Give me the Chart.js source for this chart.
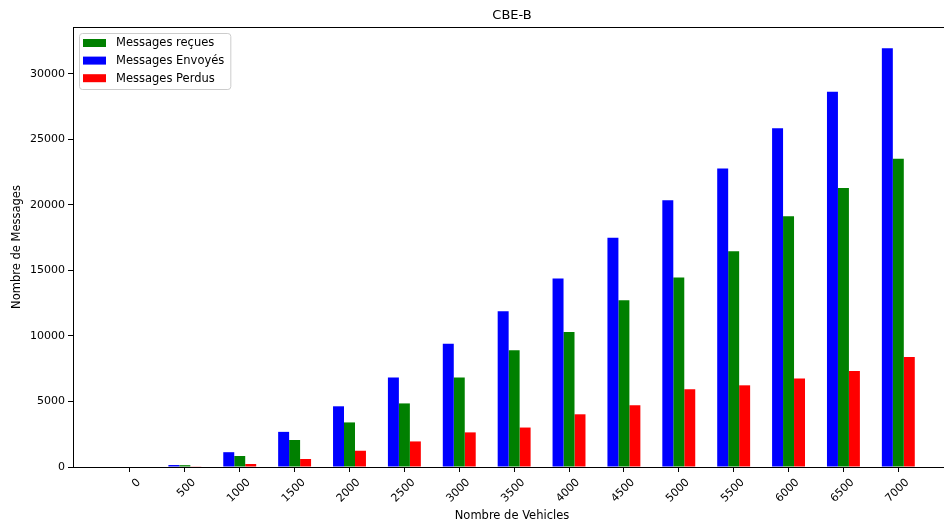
<!DOCTYPE html>
<html>
<head>
<meta charset="utf-8">
<script src="https://cdn.jsdelivr.net/npm/chart.js@4"></script>
<style>
  html, body { margin: 0; padding: 0; background: #fff; overflow: hidden; }
  canvas { display: block; }
</style>
</head>
<body>
<!-- canvas is a bit wider than the window: the right spine falls outside, as in the cropped original -->
<canvas id="cbeChart" width="952" height="523"></canvas>
<script>
const vehicleCounts = [0, 500, 1000, 1500, 2000, 2500, 3000, 3500, 4000, 4500, 5000, 5500, 6000, 6500, 7000];
const messagesEnvoyes = [0, 150, 1130, 2680, 4630, 6820, 9410, 11880, 14370, 17490, 20340, 22760, 25830, 28630, 31930];
const messagesRecues = [0, 140, 840, 2060, 3400, 4850, 6820, 8900, 10300, 12716, 14450, 16450, 19120, 21280, 23520];
const messagesPerdus = [0, 50, 230, 610, 1240, 1950, 2640, 3010, 4020, 4710, 5930, 6230, 6750, 7320, 8390];
const yTicks = [0, 5000, 10000, 15000, 20000, 25000, 30000];

// legend shows reçues first, then Envoyés, then Perdus
const legendOrder = [1, 0, 2];

Chart.defaults.font.family = "'DejaVu Sans', sans-serif";
Chart.defaults.color = '#000';

const toPoints = (values) => vehicleCounts.map((x, i) => ({ x: x, y: values[i] }));

const framePlugin = {
  id: 'frame',
  afterDraw(chart) {
    const { ctx, chartArea: a } = chart;
    ctx.save();
    ctx.strokeStyle = '#000';
    ctx.lineWidth = 1;
    ctx.strokeRect(Math.round(a.left) + 0.5, Math.round(a.top) + 0.5,
      Math.round(a.right - a.left), Math.round(a.bottom - a.top));
    ctx.restore();
  }
};

const boxLegend = {
  id: 'boxLegend',
  afterDraw(chart) {
    const { ctx, chartArea: a } = chart;
    const datasets = chart.data.datasets;
    ctx.save();
    ctx.font = '11.5px "DejaVu Sans"';
    let textW = 0;
    legendOrder.forEach(i => { textW = Math.max(textW, ctx.measureText(datasets[i].label).width); });

    const x = Math.round(a.left) + 6.5;
    const y = Math.round(a.top) + 6.5;
    const w = 37 + textW + 6;
    const h = 56;

    ctx.beginPath();
    ctx.roundRect(x, y, w, h, 3);
    ctx.fillStyle = 'rgba(255,255,255,0.8)';
    ctx.fill();
    ctx.strokeStyle = '#cccccc';
    ctx.lineWidth = 1;
    ctx.stroke();

    ctx.textBaseline = 'middle';
    ctx.textAlign = 'left';
    legendOrder.forEach((idx, row) => {
      const cy = y + 9.5 + row * 17.6;
      ctx.fillStyle = datasets[idx].backgroundColor;
      ctx.fillRect(x + 3.5, cy - 4, 23, 8);
      ctx.fillStyle = '#000';
      ctx.fillText(datasets[idx].label, x + 36.5, cy + 0.5);
    });
    ctx.restore();
  }
};

new Chart(document.getElementById('cbeChart'), {
  type: 'bar',
  data: {
    datasets: [
      {
        label: 'Messages Envoyés',
        data: toPoints(messagesEnvoyes),
        backgroundColor: '#0000ff',
        borderWidth: 0
      },
      {
        label: 'Messages reçues',
        data: toPoints(messagesRecues),
        backgroundColor: '#008000',
        borderWidth: 0
      },
      {
        label: 'Messages Perdus',
        data: toPoints(messagesPerdus),
        backgroundColor: '#ff0000',
        borderWidth: 0
      }
    ]
  },
  options: {
    responsive: false,
    animation: false,
    categoryPercentage: 0.6,
    barPercentage: 1.0,
    layout: {
      padding: { top: 0, left: 0, right: 1, bottom: 0 }
    },
    plugins: {
      legend: { display: false },
      tooltip: { enabled: false },
      title: {
        display: true,
        text: 'CBE-B',
        fullSize: false,
        color: '#000',
        font: { size: 13, weight: 'normal' },
        padding: { top: 8, bottom: 3.4 }
      }
    },
    scales: {
      x: {
        type: 'linear',
        offset: false,
        min: -519,
        max: 7480,
        afterBuildTicks: (scale) => {
          scale.ticks = vehicleCounts.map(v => ({ value: v }));
        },
        afterFit: (scale) => {
          scale.height = 56;
        },
        border: { display: false },
        grid: {
          offset: false,
          drawOnChartArea: false,
          drawTicks: true,
          tickLength: 5,
          tickColor: '#000'
        },
        ticks: {
          autoSkip: false,
          minRotation: 45,
          maxRotation: 45,
          padding: 4,
          labelOffset: 9,
          font: { size: 11 },
          callback: (value) => String(value)
        },
        title: {
          display: true,
          text: 'Nombre de Vehicles',
          font: { size: 11.5 },
          padding: { top: 0, bottom: 0 }
        }
      },
      y: {
        min: 0,
        max: 33560,
        afterBuildTicks: (scale) => {
          scale.ticks = yTicks.map(v => ({ value: v }));
        },
        afterFit: (scale) => {
          scale.width = 73;
        },
        border: { display: false },
        grid: {
          drawOnChartArea: false,
          drawTicks: true,
          tickLength: 5,
          tickColor: '#000'
        },
        ticks: {
          padding: 3,
          font: { size: 11 },
          callback: (value) => String(value)
        },
        title: {
          display: true,
          text: 'Nombre de Messages',
          font: { size: 11.5 },
          padding: { top: 10, bottom: 0 }
        }
      }
    }
  },
  plugins: [framePlugin, boxLegend]
});
</script>
</body>
</html>
